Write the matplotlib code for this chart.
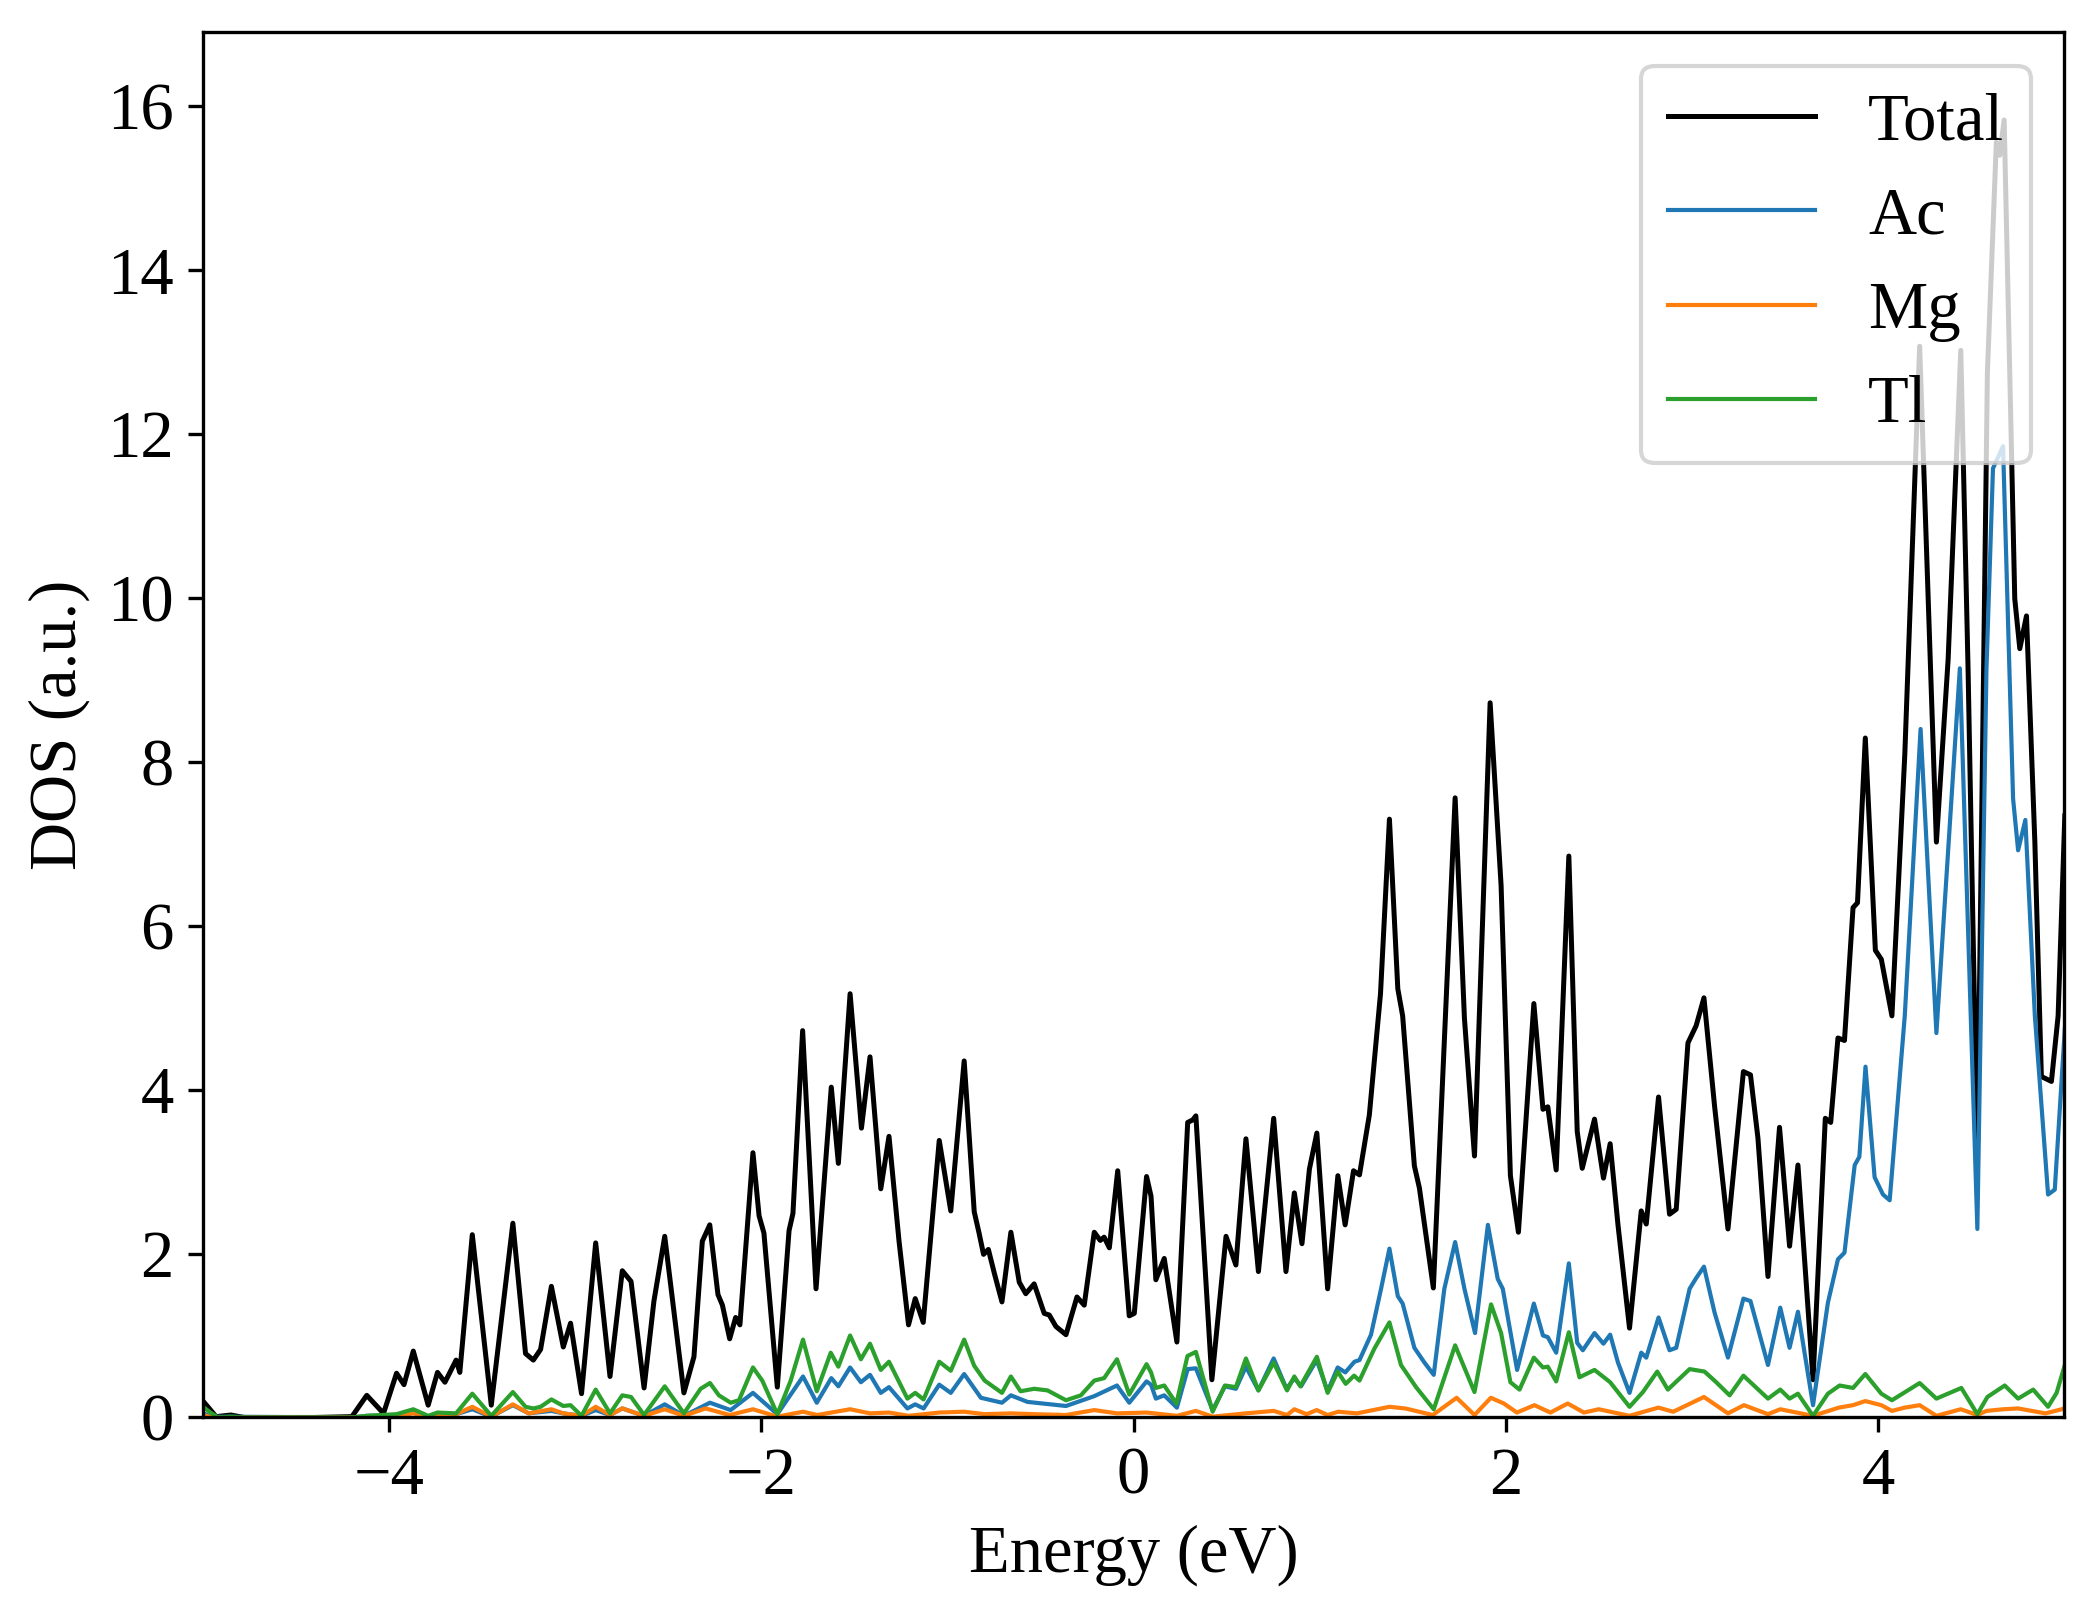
import matplotlib
matplotlib.use("Agg")
import matplotlib.pyplot as plt

plt.rcParams['font.family'] = ['Liberation Serif', 'DejaVu Serif']
plt.rcParams['mathtext.fontset'] = 'stix'

total_e = [-5.00,-4.97,-4.93,-4.85,-4.78,-4.40,-4.20,-4.12,-4.03,-3.96,-3.92,-3.87,-3.79,-3.74,-3.70,-3.64,-3.62,
           -3.553,-3.451,-3.335,-3.267,-3.225,-3.186,-3.128,-3.064,-3.025,-2.966,-2.890,-2.813,-2.747,-2.700,-2.630,
           -2.577,-2.519,-2.416,-2.362,-2.317,-2.277,-2.233,-2.209,-2.170,-2.138,-2.115,-2.045,-2.012,-1.986,-1.914,
           -1.851,-1.830,-1.778,-1.706,-1.624,-1.586,-1.523,-1.462,-1.416,-1.358,-1.314,-1.260,-1.209,-1.173,-1.130,
           -1.044,-0.982,-0.910,-0.856,-0.830,-0.806,-0.780,-0.748,-0.707,-0.659,-0.614,-0.579,-0.534,-0.480,-0.453,
           -0.417,-0.363,-0.304,-0.265,-0.211,-0.179,-0.158,-0.130,-0.085,-0.023,0.004,0.070,0.094,0.120,0.165,0.233,
           0.291,0.318,0.335,0.421,0.497,0.550,0.604,0.671,0.753,0.819,0.864,0.905,0.945,0.985,1.043,1.098,1.137,
           1.182,1.214,1.267,1.327,1.375,1.420,1.446,1.509,1.536,1.611,1.728,1.778,1.832,1.916,1.975,2.025,2.068,
           2.151,2.200,2.226,2.271,2.339,2.384,2.411,2.477,2.525,2.561,2.603,2.665,2.728,2.755,2.821,2.880,2.916,
           2.979,3.023,3.065,3.122,3.194,3.277,3.315,3.355,3.409,3.471,3.525,3.570,3.651,3.717,3.746,3.785,3.820,
           3.866,3.890,3.932,3.986,4.018,4.075,4.144,4.224,4.314,4.377,4.445,4.484,4.534,4.588,4.636,4.654,4.678,
           4.735,4.762,4.798,4.843,4.878,4.932,4.968,5.004]
total_v = [0.20,0.12,0.01,0.03,0.0,0.0,0.01,0.27,0.05,0.54,0.40,0.81,0.15,0.55,0.43,0.70,0.55,
           2.23,0.15,2.37,0.78,0.70,0.83,1.60,0.86,1.15,0.29,2.13,0.50,1.79,1.66,0.36,
           1.42,2.21,0.30,0.74,2.15,2.35,1.50,1.37,0.96,1.22,1.13,3.23,2.46,2.25,0.37,
           2.28,2.49,4.72,1.57,4.03,3.10,5.17,3.53,4.40,2.79,3.43,2.15,1.13,1.45,1.16,
           3.38,2.52,4.35,2.51,2.25,1.99,2.05,1.76,1.41,2.26,1.65,1.51,1.63,1.27,1.25,
           1.11,1.01,1.47,1.37,2.26,2.16,2.20,2.07,3.01,1.24,1.27,2.94,2.70,1.68,1.94,0.92,
           3.60,3.63,3.68,0.46,2.21,1.86,3.40,1.78,3.65,1.78,2.74,2.12,3.03,3.47,1.57,2.95,2.35,
           3.01,2.96,3.69,5.17,7.30,5.23,4.90,3.07,2.80,1.58,7.56,4.87,3.19,8.72,6.49,2.95,2.26,
           5.05,3.76,3.79,3.02,6.85,3.49,3.04,3.64,2.92,3.34,2.35,1.09,2.52,2.36,3.91,2.48,2.54,
           4.57,4.78,5.12,3.80,2.30,4.22,4.18,3.41,1.72,3.54,2.09,3.08,0.46,3.65,3.60,4.63,4.60,
           6.22,6.28,8.29,5.70,5.59,4.90,8.08,13.07,7.02,9.25,13.02,9.14,3.18,12.75,15.56,15.40,15.83,
           9.99,9.38,9.78,7.02,4.16,4.10,4.90,7.34]

ac_e = [-5.00,-4.95,-4.20,-4.12,-3.96,-3.87,-3.79,-3.64,-3.553,-3.451,-3.335,-3.25,-3.128,-3.064,-2.966,-2.890,
        -2.813,-2.747,-2.630,-2.519,-2.416,-2.276,-2.165,-2.045,-1.914,-1.842,-1.776,-1.702,-1.624,-1.586,-1.523,
        -1.465,-1.416,-1.358,-1.314,-1.215,-1.173,-1.128,-1.044,-0.982,-0.910,-0.820,-0.707,-0.659,-0.570,-0.363,
        -0.211,-0.089,-0.023,0.070,0.094,0.120,0.165,0.233,0.291,0.335,0.425,0.491,0.550,0.604,0.671,0.753,0.822,
        0.864,0.900,0.984,1.043,1.097,1.138,1.187,1.214,1.276,1.330,1.375,1.420,1.446,1.509,1.563,1.613,1.670,
        1.728,1.778,1.835,1.904,1.957,1.984,2.061,2.151,2.200,2.226,2.271,2.339,2.384,2.414,2.477,2.525,2.561,
        2.603,2.665,2.728,2.755,2.821,2.880,2.916,2.988,3.023,3.065,3.122,3.194,3.277,3.315,3.409,3.475,3.525,
        3.570,3.651,3.731,3.785,3.820,3.875,3.900,3.933,3.982,4.027,4.063,4.144,4.229,4.314,4.440,4.484,4.534,
        4.583,4.618,4.672,4.726,4.753,4.792,4.843,4.914,4.950,5.004]
ac_v = [0.05,0.01,0.0,0.02,0.03,0.06,0.01,0.04,0.10,0.01,0.15,0.05,0.08,0.05,0.02,0.09,
        0.03,0.11,0.02,0.16,0.02,0.18,0.09,0.30,0.04,0.28,0.50,0.18,0.48,0.38,0.61,
        0.43,0.52,0.30,0.37,0.11,0.16,0.11,0.40,0.30,0.53,0.24,0.18,0.27,0.19,0.14,
        0.26,0.39,0.18,0.44,0.40,0.23,0.27,0.12,0.59,0.60,0.09,0.38,0.35,0.62,0.33,0.72,0.35,
        0.48,0.38,0.70,0.32,0.61,0.55,0.68,0.70,1.01,1.57,2.06,1.48,1.39,0.85,0.67,0.52,1.57,
        2.14,1.57,1.03,2.35,1.69,1.57,0.58,1.39,1.00,0.98,0.79,1.88,0.91,0.82,1.03,0.90,1.01,
        0.67,0.30,0.79,0.73,1.22,0.82,0.85,1.57,1.70,1.84,1.28,0.73,1.45,1.42,0.64,1.34,0.85,
        1.29,0.15,1.40,1.93,2.01,3.08,3.18,4.28,2.93,2.72,2.65,4.90,8.40,4.69,9.14,5.96,2.30,
        9.14,11.58,11.85,7.55,6.92,7.29,4.90,2.72,2.78,4.74]

mg_e = [-5.00,-4.95,-4.20,-3.96,-3.87,-3.79,-3.64,-3.553,-3.451,-3.335,-3.25,-3.128,-3.064,-2.966,-2.890,-2.813,
        -2.747,-2.630,-2.519,-2.416,-2.30,-2.170,-2.045,-1.914,-1.776,-1.700,-1.523,-1.416,-1.314,-1.209,-1.044,
        -0.910,-0.800,-0.659,-0.534,-0.363,-0.211,-0.089,0.070,0.233,0.335,0.425,0.604,0.753,0.825,0.864,0.930,
        0.984,1.043,1.100,1.200,1.375,1.460,1.608,1.736,1.832,1.920,1.990,2.060,2.154,2.240,2.333,2.420,2.50,
        2.665,2.82,2.90,3.065,3.194,3.28,3.409,3.475,3.651,3.790,3.866,3.932,4.018,4.075,4.144,4.224,4.314,
        4.445,4.534,4.583,4.672,4.753,4.900,5.004]
mg_v = [0.03,0.0,0.0,0.02,0.05,0.01,0.04,0.13,0.01,0.16,0.05,0.10,0.05,0.02,0.13,0.03,
        0.11,0.02,0.10,0.02,0.11,0.03,0.10,0.01,0.07,0.03,0.10,0.05,0.06,0.02,0.06,
        0.07,0.04,0.05,0.04,0.03,0.09,0.05,0.06,0.02,0.08,0.01,0.05,0.08,0.03,0.10,0.04,
        0.09,0.03,0.07,0.05,0.13,0.11,0.03,0.24,0.03,0.24,0.17,0.06,0.15,0.06,0.17,0.06,0.10,
        0.02,0.12,0.07,0.25,0.05,0.15,0.04,0.10,0.02,0.12,0.15,0.20,0.15,0.08,0.12,0.15,0.02,
        0.10,0.03,0.08,0.10,0.11,0.05,0.11]

tl_e = [-5.00,-4.96,-4.92,-4.85,-4.78,-4.20,-4.12,-3.96,-3.87,-3.79,-3.74,-3.64,-3.553,-3.451,-3.335,-3.267,
        -3.225,-3.186,-3.128,-3.064,-3.025,-2.966,-2.890,-2.813,-2.747,-2.700,-2.630,-2.519,-2.416,-2.326,-2.276,
        -2.228,-2.165,-2.120,-2.045,-1.995,-1.914,-1.842,-1.776,-1.702,-1.627,-1.586,-1.523,-1.465,-1.416,-1.358,
        -1.314,-1.215,-1.173,-1.128,-1.044,-0.982,-0.910,-0.856,-0.800,-0.707,-0.659,-0.607,-0.534,-0.462,-0.363,
        -0.283,-0.211,-0.158,-0.089,-0.023,0.070,0.094,0.120,0.165,0.230,0.290,0.335,0.425,0.491,0.550,0.604,
        0.671,0.753,0.825,0.864,0.896,0.985,1.043,1.097,1.140,1.185,1.214,1.294,1.375,1.437,1.518,1.613,1.728,
        1.832,1.921,1.975,2.025,2.074,2.151,2.200,2.226,2.271,2.339,2.396,2.477,2.561,2.665,2.737,2.814,2.871,
        2.988,3.068,3.131,3.203,3.277,3.409,3.475,3.525,3.570,3.651,3.731,3.794,3.866,3.932,4.018,4.075,4.224,
        4.314,4.448,4.534,4.588,4.681,4.753,4.834,4.914,4.960,5.004]
tl_v = [0.13,0.06,0.0,0.01,0.0,0.0,0.02,0.04,0.10,0.02,0.06,0.05,0.29,0.02,0.31,0.13,
        0.11,0.13,0.22,0.14,0.15,0.02,0.34,0.05,0.27,0.25,0.03,0.38,0.05,0.35,0.42,
        0.27,0.18,0.21,0.61,0.45,0.04,0.45,0.95,0.32,0.79,0.62,1.00,0.71,0.90,0.58,
        0.68,0.23,0.30,0.22,0.68,0.57,0.95,0.63,0.45,0.30,0.50,0.32,0.35,0.33,0.21,
        0.27,0.45,0.48,0.71,0.28,0.65,0.55,0.36,0.39,0.17,0.75,0.80,0.07,0.39,0.37,0.72,
        0.33,0.67,0.33,0.50,0.38,0.74,0.30,0.56,0.41,0.51,0.45,0.84,1.16,0.64,0.37,0.10,0.88,
        0.31,1.38,1.03,0.43,0.34,0.73,0.61,0.62,0.44,1.04,0.49,0.58,0.43,0.13,0.31,0.56,0.34,
        0.59,0.56,0.43,0.27,0.51,0.23,0.34,0.23,0.29,0.02,0.29,0.39,0.36,0.53,0.29,0.21,0.42,
        0.23,0.36,0.04,0.25,0.39,0.23,0.34,0.13,0.30,0.64]

labels = ['Total', 'Ac', 'Mg', 'Tl']

fig = plt.figure(figsize=(2097/300, 1617/300), dpi=300)
ax = fig.add_axes([0.0968, 0.1234, 0.9843-0.0968, 0.980-0.1234])

ax.plot(total_e, total_v, color='black', lw=1.2, label=labels[0])
ax.plot(ac_e, ac_v, color='#1f77b4', lw=1.0, label=labels[1])
ax.plot(mg_e, mg_v, color='#ff7f0e', lw=1.0, label=labels[2])
ax.plot(tl_e, tl_v, color='#2ca02c', lw=1.0, label=labels[3])

ax.set_xlim(-5, 5)
ax.set_ylim(0, 16.9)
ax.set_xticks([-4, -2, 0, 2, 4])
ax.set_yticks([0, 2, 4, 6, 8, 10, 12, 14, 16])
ax.tick_params(labelsize=16)
ax.set_xlabel('Energy (eV)', fontsize=16)
ax.set_ylabel('DOS (a.u.)', fontsize=16)
ax.legend(loc='upper right', fontsize=16, handlelength=2.2)

fig.savefig('out.png', dpi=300)
